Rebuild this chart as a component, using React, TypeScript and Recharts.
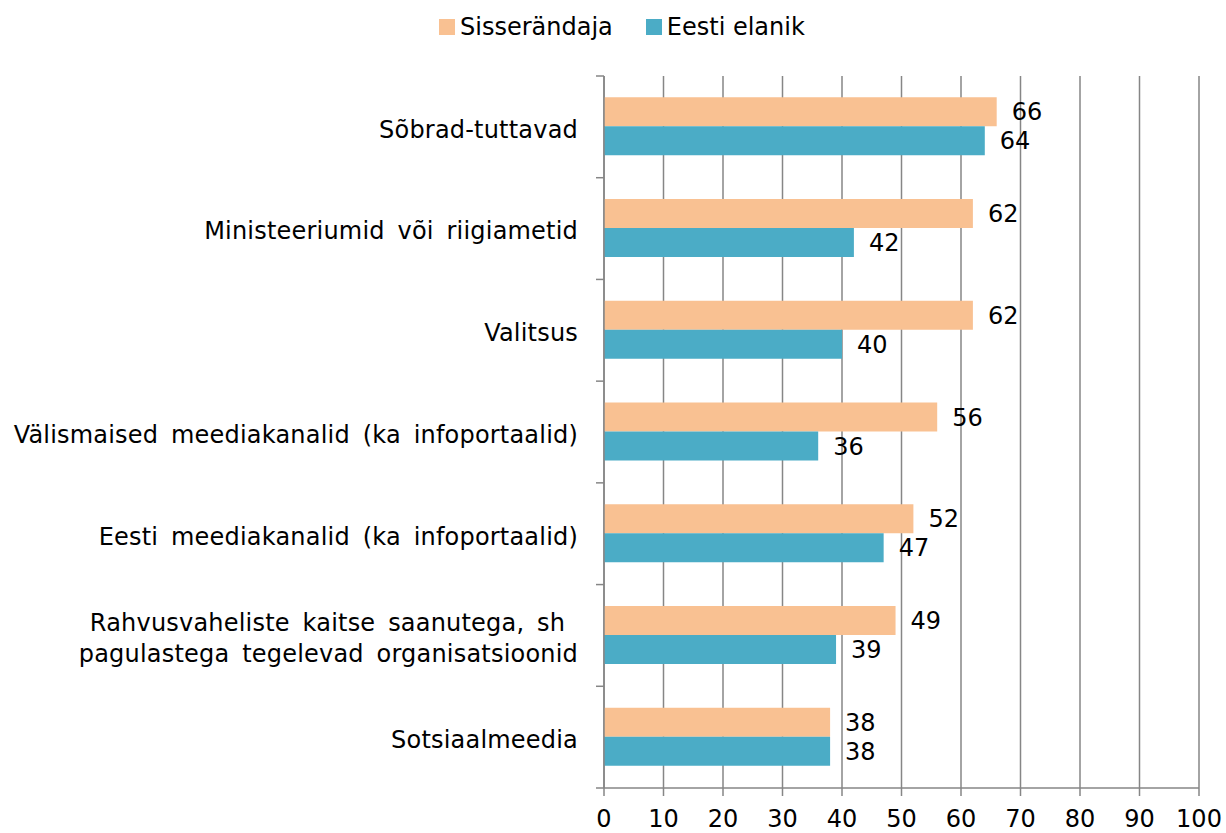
import { BarChart, Bar, XAxis, YAxis, CartesianGrid, LabelList } from "recharts";

const categories = [
  "Sõbrad-tuttavad",
  "Ministeeriumid või riigiametid",
  "Valitsus",
  "Välismaised meediakanalid (ka infoportaalid)",
  "Eesti meediakanalid (ka infoportaalid)",
  "Rahvusvaheliste kaitse saanutega, sh |pagulastega tegelevad organisatsioonid",
  "Sotsiaalmeedia",
];
const immigrant = [66, 62, 62, 56, 52, 49, 38];
const resident = [64, 42, 40, 36, 47, 39, 38];
const xTicks = [0, 10, 20, 30, 40, 50, 60, 70, 80, 90, 100];

const data = categories.map((name, i) => ({
  name,
  immigrant: immigrant[i],
  resident: resident[i],
}));

const W = 1226;
const H = 833;
const TOP = 76;
const BOTTOM = 788;
const LEFT = 604;
const RIGHT = 1199;
const FONT = "'DejaVu Sans', Verdana, sans-serif";
const FS = 24;
const GRID = "#868686";
const ORANGE = "#F9C192";
const BLUE = "#4BACC6";

const band = (BOTTOM - TOP) / categories.length;

function CategoryTick(props: any) {
  const { x, y, payload, index } = props;
  const lines: string[] = String(payload.value).split("|");
  const lh = 31;
  const start = y - ((lines.length - 1) * lh) / 2;
  return (
    <g>
      <line x1={LEFT - 8} x2={LEFT} y1={y - band / 2} y2={y - band / 2} stroke={GRID} strokeWidth={1.5} />
      {index === categories.length - 1 && (
        <line x1={LEFT - 8} x2={LEFT} y1={y + band / 2} y2={y + band / 2} stroke={GRID} strokeWidth={1.5} />
      )}
      <text
        x={x}
        y={start}
        textAnchor="end"
        fontFamily={FONT}
        fontSize={FS}
        fill="#000"
        style={{ wordSpacing: 5, letterSpacing: 0.2 }}
      >
        {lines.map((l, i) => (
          <tspan key={i} x={x} y={start + i * lh} dy="0.45em">
            {l}
          </tspan>
        ))}
      </text>
    </g>
  );
}

function LegendBox() {
  const items = [
    { label: "Sisserändaja", color: ORANGE },
    { label: "Eesti elanik", color: BLUE },
  ];
  return (
    <div
      style={{
        position: "absolute",
        top: 12,
        left: 439,
        display: "flex",
        fontFamily: FONT,
        fontSize: FS,
        gap: 33,
        lineHeight: "30px",
      }}
    >
      {items.map((it) => (
        <div key={it.label} style={{ display: "flex", alignItems: "center", gap: 5 }}>
          <span style={{ width: 16, height: 16, background: it.color, display: "inline-block" }} />
          <span>{it.label}</span>
        </div>
      ))}
    </div>
  );
}

export default function App() {
  return (
    <div style={{ position: "fixed", top: 0, left: 0, width: W, height: H, background: "#fff" }}>
      <LegendBox />
      <BarChart
        width={W}
        height={H}
        data={data}
        layout="vertical"
        margin={{ top: TOP, right: W - RIGHT, bottom: H - BOTTOM - 40, left: 0 }}
        barCategoryGap="21%"
        barGap={0}
      >
        <CartesianGrid horizontal={false} stroke={GRID} strokeWidth={1.5} />
        <XAxis
          type="number"
          domain={[0, 100]}
          ticks={xTicks}
          interval={0}
          height={40}
          tickSize={8}
          tickMargin={14}
          stroke={GRID}
          strokeWidth={1.5}
          tick={{ fill: "#000", fontSize: FS, fontFamily: FONT }}
        />
        <YAxis
          type="category"
          dataKey="name"
          width={LEFT}
          tickLine={false}
          tickMargin={20}
          stroke={GRID}
          strokeWidth={1.5}
          interval={0}
          tick={<CategoryTick />}
        />
        <Bar dataKey="immigrant" name="Sisserändaja" fill={ORANGE} isAnimationActive={false}>
          <LabelList dataKey="immigrant" position="right" offset={15} fill="#000" fontSize={FS} fontFamily={FONT} />
        </Bar>
        <Bar dataKey="resident" name="Eesti elanik" fill={BLUE} isAnimationActive={false}>
          <LabelList dataKey="resident" position="right" offset={15} fill="#000" fontSize={FS} fontFamily={FONT} />
        </Bar>
      </BarChart>
    </div>
  );
}
